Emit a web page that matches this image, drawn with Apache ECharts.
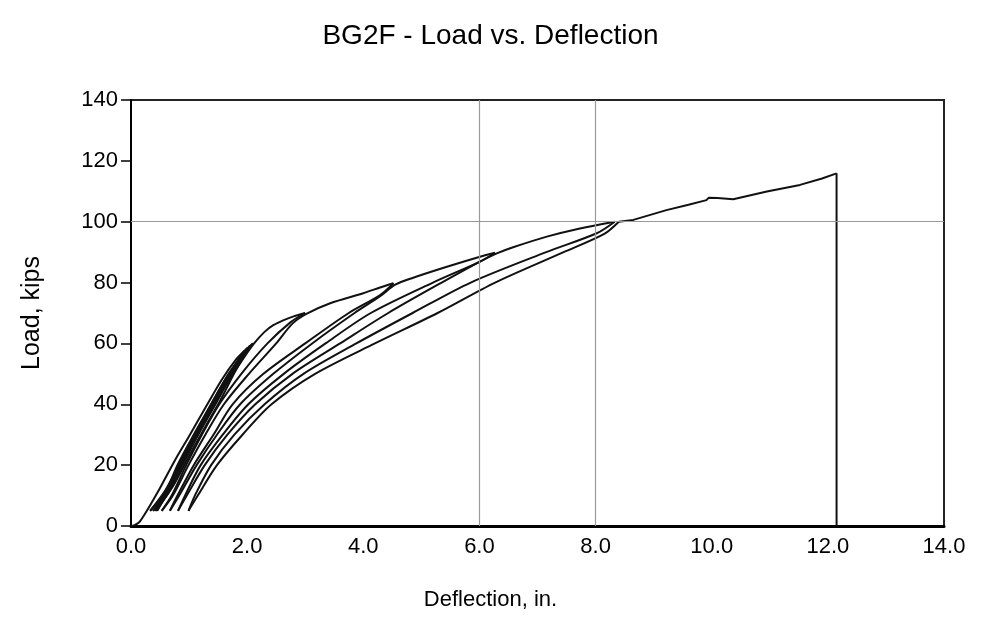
<!DOCTYPE html>
<html>
<head>
<meta charset="utf-8">
<title>BG2F - Load vs. Deflection</title>
<script src="https://cdn.jsdelivr.net/npm/echarts@6/dist/echarts.min.js"></script>
<style>
  html, body { margin: 0; padding: 0; background: #fff; }
  #chart { width: 981px; height: 641px; }
</style>
</head>
<body>
<div id="chart"></div>
<script>
// deflection (in.), load (kips)
var initialLoad = [[0, 0], [0.06, 0.3], [0.14, 1.2], [0.2, 2.8], [0.26, 4.6], [0.35, 7.5], [0.5, 12.5], [0.76, 21.7], [1.0, 29.5], [1.3, 39.5], [1.56, 48], [1.8, 54.5], [1.95, 57.5], [2.1, 60]];

// service cycles (the dark band near the origin)
var serviceUnloadA = [[1.95, 57.5], [1.62, 48], [1.32, 38], [1.05, 28], [0.8, 19], [0.55, 10], [0.33, 5]];
var serviceReloadA = [[0.33, 5], [0.6, 12], [0.88, 22], [1.15, 31], [1.42, 40], [1.7, 50], [1.95, 57.5]];
var serviceUnloadB = [[2.0, 58.5], [1.66, 48.5], [1.36, 38.5], [1.08, 28.5], [0.84, 19.5], [0.6, 10.5], [0.38, 5]];
var serviceReloadB = [[0.38, 5], [0.66, 12.5], [0.94, 22.5], [1.2, 31.5], [1.47, 40.5], [1.74, 50], [2.0, 58.5]];
var serviceUnloadC = [[2.05, 59.3], [1.72, 49.5], [1.42, 39.5], [1.14, 29.5], [0.9, 20.5], [0.65, 11], [0.42, 5]];
var serviceReloadC = [[0.42, 5], [0.72, 13], [1.0, 23], [1.26, 32], [1.53, 41], [1.8, 51], [2.05, 59.3]];

var unload60 = [[2.1, 60], [1.95, 57], [1.68, 50], [1.38, 40], [1.08, 30], [0.8, 20], [0.58, 10], [0.45, 5]];
var reload60 = [[0.45, 5], [0.6, 10], [0.85, 20], [1.12, 30], [1.43, 40], [1.76, 50], [1.95, 55.5], [2.12, 60], [2.3, 63.8], [2.45, 66], [2.62, 67.6], [2.8, 68.9], [3.0, 70]];

var unload70 = [[3.0, 70], [2.75, 67], [2.35, 60], [1.9, 50], [1.52, 40], [1.22, 30], [0.95, 20], [0.7, 10], [0.53, 5]];
var reload70 = [[0.53, 5], [0.72, 10], [0.99, 20], [1.28, 30], [1.6, 40], [2.03, 50], [2.5, 60], [2.78, 66.5], [3.02, 69.7], [3.43, 73.2], [4.0, 76.5], [4.29, 78.4], [4.52, 79.8]];

var unload80 = [[4.52, 79.8], [4.29, 75.9], [3.75, 70], [3.0, 60], [2.28, 50], [1.75, 40], [1.42, 30], [1.08, 20], [0.8, 10], [0.67, 5]];
var reload80 = [[0.67, 5], [0.83, 10], [1.13, 20], [1.48, 30], [1.88, 40], [2.45, 50], [3.12, 60], [3.85, 70], [4.29, 75.5], [4.55, 79.3], [4.86, 81.6], [5.44, 85.2], [6.01, 88.5], [6.27, 89.8]];

var unload90 = [[6.27, 89.8], [6.01, 86.9], [5.2, 80], [4.13, 70], [3.35, 60], [2.63, 50], [2.02, 40], [1.58, 30], [1.2, 20], [0.93, 10], [0.81, 5]];
var reload90 = [[0.81, 5], [0.96, 10], [1.27, 20], [1.66, 30], [2.14, 40], [2.78, 50], [3.6, 60], [4.43, 70], [5.35, 80], [6.01, 86.9], [6.3, 89.6], [6.58, 91.6], [7.16, 95.1], [7.73, 97.8], [8.33, 100]];

var unload100 = [[8.33, 100], [8.02, 96.2], [7.15, 90], [5.85, 80], [4.85, 70], [3.88, 60], [2.97, 50], [2.3, 40], [1.78, 30], [1.38, 20], [1.1, 10], [0.99, 5]];
var reload100 = [[0.99, 5], [1.15, 10], [1.48, 20], [1.92, 30], [2.42, 40], [3.17, 50], [4.2, 60], [5.28, 70], [6.27, 80], [7.45, 90], [8.15, 96], [8.4, 100]];

// last push to failure, then the drop
var finalLoad = [[8.4, 100], [8.65, 100.6], [9.22, 103.8], [9.6, 105.6], [9.91, 107.1], [9.95, 107.9], [10.1, 107.8], [10.37, 107.4], [10.95, 109.9], [11.52, 112.1], [11.9, 114.2], [12.15, 115.9]];
var failureDrop = [[12.15, 115.9], [12.15, 0]];

var smoothSegments = [
  initialLoad, serviceUnloadA, serviceReloadA, serviceUnloadB, serviceReloadB,
  serviceUnloadC, serviceReloadC,
  unload60, reload60, unload70, reload70, unload80, reload80,
  unload90, reload90, unload100, reload100
];
var rawSegments = [finalLoad, failureDrop];

// the gray lines that show on the original sheet
var refLoads = [100];
var refDeflections = [6, 8];

var xTicks = { min: 0, max: 14, step: 2 };
var yTicks = { min: 0, max: 140, step: 20 };

var font = "'Liberation Sans', Arial, sans-serif";

function lineSeries(seg, smooth) {
  return {
    type: "line",
    data: seg,
    showSymbol: false,
    silent: true,
    animation: false,
    smooth: smooth,
    lineStyle: { color: "#111", width: 2 },
  };
}

var series = smoothSegments.map(function (seg) { return lineSeries(seg, 0.3); })
  .concat(rawSegments.map(function (seg) { return lineSeries(seg, false); }));

series[0].markLine = {
  silent: true,
  symbol: "none",
  animation: false,
  label: { show: false },
  lineStyle: { color: "#999", width: 1.2, type: "solid" },
  data: refLoads.map(function (v) { return { yAxis: v }; })
    .concat(refDeflections.map(function (v) { return { xAxis: v }; })),
};

var option = {
  animation: false,
  backgroundColor: "#fff",
  title: {
    text: "BG2F - Load vs. Deflection",
    left: "center",
    top: 17,
    textStyle: {
      fontFamily: font,
      fontSize: 28,
      fontWeight: "normal",
      color: "#000",
    },
  },
  grid: {
    left: 131,
    right: 37,
    top: 100,
    bottom: 115,
    show: true,
    borderColor: "#222",
    borderWidth: 2,
  },
  xAxis: {
    type: "value",
    min: xTicks.min,
    max: xTicks.max,
    interval: xTicks.step,
    name: "Deflection, in.",
    nameLocation: "middle",
    nameGap: 63,
    nameTextStyle: { fontFamily: font, fontSize: 22, color: "#000", padding: [0, 94, 0, 0] },
    axisLine: { show: true, lineStyle: { color: "#000", width: 3 } },
    axisTick: { show: false },
    splitLine: { show: false },
    axisLabel: {
      fontFamily: font,
      fontSize: 22,
      color: "#000",
      margin: 10,
      formatter: function (v) { return v.toFixed(1); },
    },
  },
  yAxis: {
    type: "value",
    min: yTicks.min,
    max: yTicks.max,
    interval: yTicks.step,
    name: "Load, kips",
    nameLocation: "middle",
    nameGap: 86,
    nameTextStyle: { fontFamily: font, fontSize: 25, color: "#000" },
    axisLine: { show: true, lineStyle: { color: "#000", width: 2 } },
    axisTick: { show: true, inside: false, length: 10, lineStyle: { color: "#000", width: 1.5 } },
    splitLine: { show: false },
    axisLabel: {
      fontFamily: font,
      fontSize: 22,
      color: "#000",
      margin: 13,
    },
  },
  series: series,
};

var myChart = echarts.init(document.getElementById("chart"), null, { renderer: "canvas" });
myChart.setOption(option);
</script>
</body>
</html>
